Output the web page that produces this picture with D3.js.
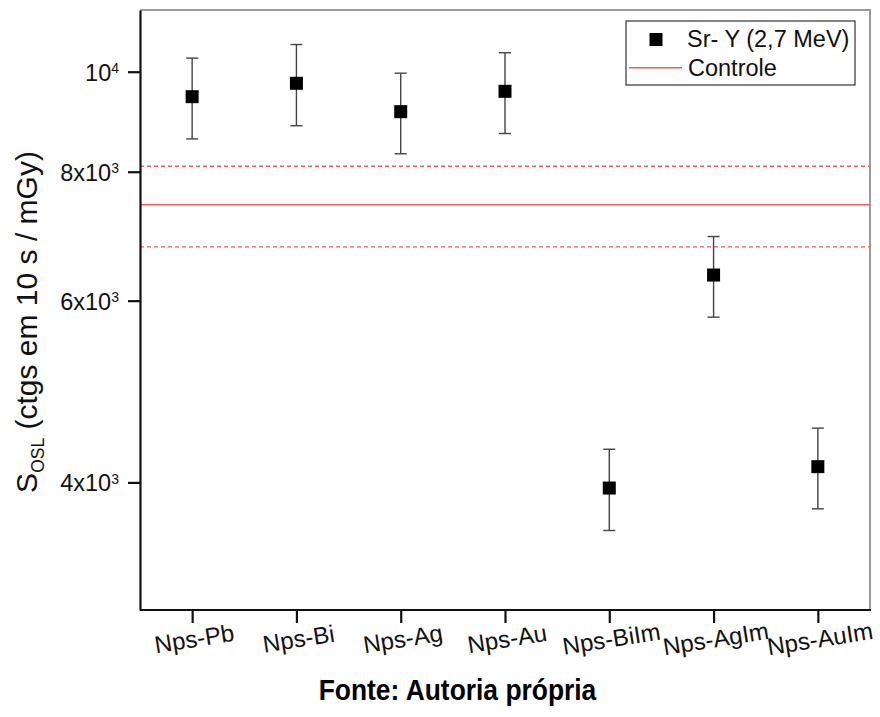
<!DOCTYPE html>
<html>
<head>
<meta charset="utf-8">
<script src="https://cdn.jsdelivr.net/npm/d3@7"></script>
<style>
  body { margin: 0; background: #fff; }
  svg { display: block; font-family: "Liberation Sans", Arial, sans-serif; }
</style>
</head>
<body>
<svg id="chart" width="880" height="717"></svg>
<script>
const categories = ["Nps-Pb", "Nps-Bi", "Nps-Ag", "Nps-Au", "Nps-BiIm", "Nps-AgIm", "Nps-AuIm"];
const values = [9458, 9745, 9147, 9572, 3950, 6353, 4143];
const errors = [850, 880, 820, 860, 357, 570, 372];
const controlValue = 7431;
const controlError = 666;
const yTickValues = [4000, 6000, 8000, 10000];
const yTickMantissa = ["4x10", "6x10", "8x10", "10"];
const yTickExponent = ["3", "3", "3", "4"];
const seriesLabel = "Sr- Y (2,7 MeV)";
const controlLabel = "Controle";
const sourceText = "Fonte: Autoria própria";

(function () {
const svg = d3.select("#chart");
const mLeft = 140, mRight = 870, mTop = 10, mBottom = 610;

const x = d3.scalePoint().domain(categories).range([mLeft, mRight]).padding(0.5);
const y = d3.scaleLog().domain([3009, 11476]).range([mBottom, mTop]);

const red = "#f25c5c";

// frame top/right (grey)
svg.append("path")
  .attr("d", `M${mLeft},${mTop}H${mRight}V${mBottom}`)
  .attr("fill", "none").attr("stroke", "#9a9a9a").attr("stroke-width", 2);

// control lines
const ctrl = svg.append("g");
ctrl.append("line").attr("x1", mLeft).attr("x2", mRight)
  .attr("y1", y(controlValue)).attr("y2", y(controlValue))
  .attr("stroke", red).attr("stroke-width", 1.4);
[controlValue + controlError, controlValue - controlError].forEach(v => {
  ctrl.append("line").attr("x1", mLeft).attr("x2", mRight)
    .attr("y1", y(v)).attr("y2", y(v))
    .attr("stroke", red).attr("stroke-width", 1.4)
    .attr("stroke-dasharray", "4,3");
});

// y axis
const yAxis = svg.append("g").attr("transform", `translate(${mLeft},0)`)
  .call(d3.axisLeft(y).tickValues(yTickValues).tickSize(12).tickSizeOuter(0).tickFormat(""));
yAxis.select(".domain").attr("stroke", "#111").attr("stroke-width", 2.2);
yAxis.selectAll(".tick line").attr("stroke", "#111").attr("stroke-width", 2.2);
yAxis.selectAll(".tick text").remove();
yAxis.selectAll(".tick").each(function(d, i) {
  const t = d3.select(this).append("text")
    .attr("x", -21).attr("y", 0).attr("dy", "0.36em")
    .attr("text-anchor", "end").attr("fill", "#111")
    .style("font-size", "23.5px");
  t.append("tspan").text(yTickMantissa[i]);
  t.append("tspan").attr("dy", "-0.55em").style("font-size", "14px").text(yTickExponent[i]);
});

// x axis
const xAxis = svg.append("g").attr("transform", `translate(0,${mBottom})`)
  .call(d3.axisBottom(x).tickSize(13).tickSizeOuter(0));
xAxis.select(".domain").attr("stroke", "#111").attr("stroke-width", 2.2)
  .attr("d", `M${mLeft},0H${mRight + 1}`);
xAxis.selectAll(".tick line").attr("stroke", "#111").attr("stroke-width", 2.2);
xAxis.selectAll(".tick text")
  .attr("y", 0).attr("dy", 0)
  .attr("text-anchor", "middle")
  .attr("transform", "translate(3,37) rotate(-9)")
  .attr("fill", "#111")
  .style("font-size", "24px");

// error bars
const eb = svg.append("g").attr("stroke", "#444").attr("stroke-width", 1.4);
categories.forEach((c, i) => {
  const cx = x(c), hi = y(values[i] + errors[i]), lo = y(values[i] - errors[i]);
  eb.append("line").attr("x1", cx).attr("x2", cx).attr("y1", hi).attr("y2", lo);
  eb.append("line").attr("x1", cx - 6).attr("x2", cx + 6).attr("y1", hi).attr("y2", hi);
  eb.append("line").attr("x1", cx - 6).attr("x2", cx + 6).attr("y1", lo).attr("y2", lo);
});

// markers
svg.append("g").selectAll("rect").data(categories).join("rect")
  .attr("x", d => x(d) - 6.5)
  .attr("y", (d, i) => y(values[i]) - 6.5)
  .attr("width", 13).attr("height", 13).attr("fill", "#000");

// y title
const yt = svg.append("text")
  .attr("transform", "translate(37,322) rotate(-90)")
  .attr("text-anchor", "middle").attr("fill", "#111")
  .style("font-size", "30px");
yt.append("tspan").text("S");
yt.append("tspan").attr("dy", 6.6).style("font-size", "17.5px").text("OSL");
yt.append("tspan").attr("dy", -6.6).text(" (ctgs em 10 s / mGy)");

// legend
const lg = svg.append("g");
lg.append("rect").attr("x", 626).attr("y", 21).attr("width", 229).attr("height", 64)
  .attr("fill", "#fff").attr("stroke", "#333").attr("stroke-width", 1.2);
lg.append("rect").attr("x", 649.5).attr("y", 33).attr("width", 13).attr("height", 13).attr("fill", "#000");
lg.append("text").attr("x", 687).attr("y", 47).attr("fill", "#111").style("font-size", "23.5px").text(seriesLabel);
lg.append("line").attr("x1", 629).attr("x2", 682).attr("y1", 67.7).attr("y2", 67.7)
  .attr("stroke", red).attr("stroke-width", 1.4);
lg.append("text").attr("x", 688).attr("y", 76).attr("fill", "#111").style("font-size", "23.5px").text(controlLabel);

// source
svg.append("text")
  .attr("transform", "translate(457.5,700) scale(1,1.15)")
  .attr("text-anchor", "middle").attr("fill", "#000")
  .style("font-size", "26.4px").style("font-weight", "bold")
  .text(sourceText);
})();
</script>
</body>
</html>
